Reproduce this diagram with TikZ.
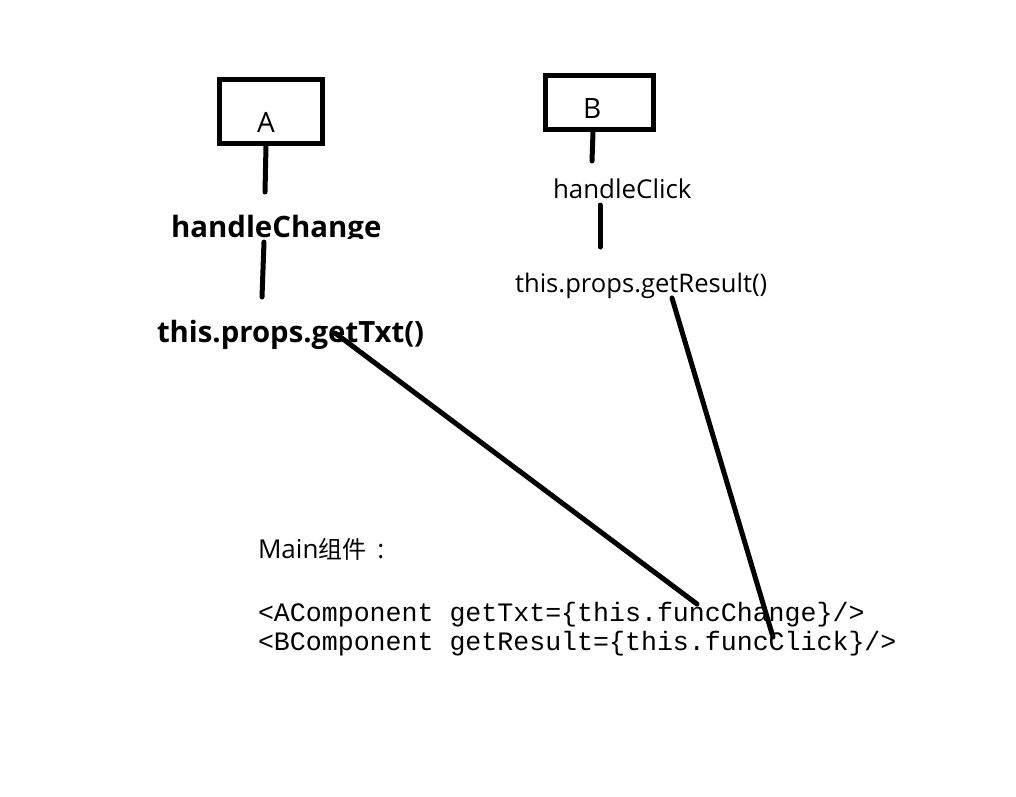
\documentclass[tikz,border=0pt]{standalone}
\usepackage{fontspec}
\setmainfont{Open Sans}
\newfontfamily\cjkfont{Noto Sans CJK SC}
\newfontfamily\codefont{Liberation Mono}
\begin{document}
\begin{tikzpicture}[x=1pt,y=-1pt,
  boxst/.style={draw, line width=5pt, minimum width=103pt, minimum height=64pt, inner sep=0pt},
  lbl/.style={anchor=base west, inner sep=0pt, outer sep=0pt},
  conn/.style={line width=5pt, line cap=round}]
\useasboundingbox (0,0) rectangle (1016,796);
% boxes
\node[boxst] (A) at (271,111.5) {};
\node[boxst, minimum width=108pt, minimum height=54pt] (B) at (599.5,102.5) {};
\node[lbl, font=\fontsize{28}{32}\selectfont] (Alab) at (257,132) {A};
\node[lbl, font=\fontsize{28}{32}\selectfont] (Blab) at (583,118) {B};
% texts
\begin{scope}
\clip (0,0) rectangle (1016,238.5);
\node[lbl, font=\fontsize{29.4}{32}\selectfont\bfseries] (hc) at (171,237) {handleChange};
\end{scope}
\node[lbl, font=\fontsize{29.3}{32}\selectfont\bfseries] (gt) at (157,342) {this.props.getTxt()};
\node[lbl, font=\fontsize{25.9}{28}\selectfont] (hk) at (553,198) {handleClick};
\node[lbl, font=\fontsize{25.6}{28}\selectfont] (gr) at (515,292) {this.props.getResult()};
\node[lbl, font=\fontsize{26}{28}\selectfont] (main) at (258,558) {Main{\cjkfont\fontsize{24}{28}\selectfont 组件}\hspace*{11pt}:};
\node[lbl, font=\fontsize{26.6}{30}\selectfont\codefont] (c1) at (258,621) {<AComponent getTxt=\{this.funcChange\}/>};
\node[lbl, font=\fontsize{26.6}{30}\selectfont\codefont] (c2) at (258,650) {<BComponent getResult=\{this.funcClick\}/>};
% connector ends
\coordinate (a1) at (266,146);
\coordinate (a2) at (265,192);
\coordinate (a3) at (264,242);
\coordinate (a4) at (262,297);
\coordinate (b1) at (593,132);
\coordinate (b2) at (592,161);
\coordinate (b3) at (600,205);
\coordinate (b4) at (600,247);
\coordinate (t1) at (335,333);
\coordinate (t2) at (697,604);
\coordinate (r1) at (672,298);
\coordinate (r2) at (773,637);
\draw[conn] (a1) -- (a2);
\draw[conn] (a3) -- (a4);
\draw[conn] (b1) -- (b2);
\draw[conn] (b3) -- (b4);
\draw[conn] (t1) -- (t2);
\draw[conn] (r1) -- (r2);
\end{tikzpicture}
\end{document}
